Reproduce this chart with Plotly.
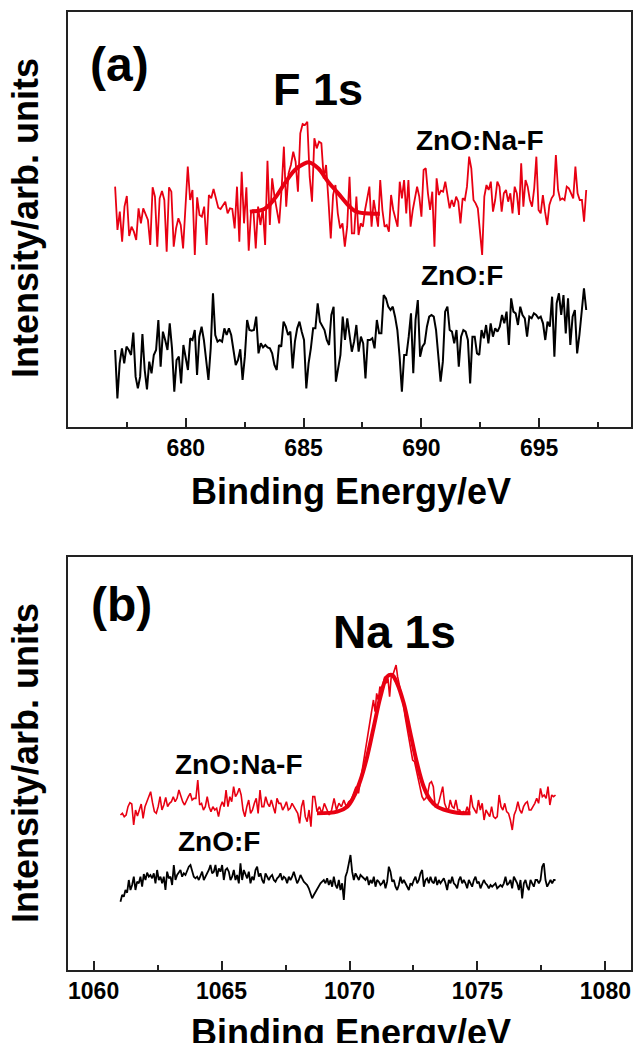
import numpy as np
import plotly.graph_objects as go

# ---------------- data (arb. units) ----------------
# Panel (a): F 1s, ZnO:Na-F (red) split in two sampled segments
f1s_naf_left = [721, 591, 646, 556, 661, 693, 573, 601, 586, 561, 656, 611, 656, 641, 621, 546,
                719, 691, 541, 686, 708, 681, 526, 719, 706, 541, 596, 626, 606, 536, 676, 781,
                681, 711, 516, 689, 636, 631, 661, 546, 696, 686, 714, 681, 658, 654, 666, 676,
                641, 656, 654, 596, 721, 556, 766, 611, 719, 529, 646, 651, 536, 661, 606, 656,
                546, 799, 606, 746, 691, 651, 611, 711, 841, 661, 761, 786, 826, 796, 706, 881,
                909, 906, 916, 751, 676, 866, 836, 856, 851, 746, 786, 681, 566, 696, 726, 641,
                596, 611, 541, 601, 751, 581]
f1s_naf_right = [581, 691, 576, 611, 601, 651, 691, 721, 601, 681, 641, 601, 741, 651, 601, 606,
                 586, 696, 651, 621, 601, 736, 686, 741, 641, 741, 601, 651, 681, 721, 691, 631,
                 771, 776, 701, 651, 706, 541, 746, 696, 709, 706, 736, 701, 656, 681, 661, 691,
                 676, 611, 686, 681, 721, 811, 776, 681, 671, 656, 596, 516, 691, 726, 711, 736,
                 646, 681, 736, 721, 646, 701, 711, 676, 701, 641, 721, 701, 636, 791, 661, 741,
                 721, 681, 661, 716, 811, 651, 641, 696, 646, 606, 666, 686, 696, 816, 711, 681,
                 686, 681, 721, 716, 701, 686, 781, 701, 681, 681, 616, 711]
f1s_naf_left_range = [677.0, 687.05]
f1s_naf_right_range = [687.15, 697.0]

# Panel (a): fitted F 1s component
f1s_fit_x = [682.72, 683.35, 683.78, 684.20, 684.63, 685.05, 685.22, 685.62, 686.04, 686.47,
             686.89, 687.18, 687.60, 688.24]
f1s_fit_y = [646, 655, 686, 731, 771, 791, 794, 776, 736, 701, 666, 648, 641, 640]

# Panel (a): ZnO:F (black)
f1s_f = [231, 86, 191, 236, 191, 241, 231, 216, 283, 151, 116, 151, 279, 171, 113, 196,
         161, 216, 231, 321, 181, 286, 261, 231, 311, 236, 106, 201, 211, 131, 246, 206,
         171, 266, 261, 291, 156, 271, 301, 261, 206, 141, 236, 401, 276, 256, 261, 256,
         296, 276, 296, 276, 231, 186, 201, 233, 141, 211, 321, 291, 289, 291, 331, 221,
         251, 239, 246, 239, 236, 221, 186, 171, 246, 241, 316, 301, 276, 286, 176, 256,
         296, 316, 286, 261, 116, 191, 236, 296, 296, 371, 316, 301, 291, 261, 246, 336,
         361, 136, 181, 216, 331, 261, 326, 271, 226, 256, 306, 226, 271, 251, 146, 261,
         261, 266, 236, 321, 281, 281, 396, 386, 361, 351, 361, 331, 291, 211, 106, 216,
         216, 271, 341, 161, 321, 381, 211, 241, 251, 301, 331, 336, 331, 291, 211, 136,
         196, 346, 361, 291, 286, 251, 291, 181, 271, 291, 286, 261, 131, 271, 271, 221,
         216, 291, 266, 306, 251, 311, 271, 296, 286, 301, 336, 311, 346, 246, 386, 346,
         341, 306, 361, 336, 326, 271, 331, 326, 341, 336, 326, 331, 311, 261, 316, 301,
         391, 211, 371, 401, 336, 396, 281, 386, 246, 331, 351, 221, 276, 351, 416, 351]
f1s_f_range = [677.0, 697.0]

# Panel (b): Na 1s, ZnO:Na-F (red), sampled segments
na1s_naf_base_left = [465, 470, 460, 465, 490, 502, 498, 435, 480, 462, 480, 498, 455, 490, 505, 520,
                      535, 502, 475, 470, 490, 520, 480, 495, 518, 490, 500, 505, 520, 505, 515, 540,
                      520, 505, 495, 510, 520, 530, 510, 515, 515, 570, 495, 500, 480, 490, 520, 490,
                      475, 490, 480, 485, 460, 490, 505, 490, 540, 490, 520, 505, 550, 520, 530, 545,
                      525, 480, 460, 490, 510, 470, 480, 500, 515, 470, 540, 490, 490, 520, 500, 490,
                      510, 490, 470, 515, 500, 500, 480, 490, 505, 480, 485, 500, 490, 480, 470, 440,
                      490, 510, 460, 445, 480, 430, 520, 520]
na1s_naf_base_mid = [475, 490, 470, 500, 485, 465, 480, 515, 480, 500, 490, 510, 490, 505, 510, 530,
                     550, 530]
na1s_naf_rise = [570, 600, 630, 660, 695, 725, 760, 785, 810, 775, 830, 810, 850, 840,
                 865, 880, 860, 875, 820, 880, 885, 900, 915]
na1s_naf_fall = [880, 855, 830, 800, 760, 730, 700,
                 660, 630, 625, 600, 565, 550, 520, 510, 515, 530, 560, 565, 550, 490, 490, 505,
                 530, 550, 500, 485, 480, 510, 490, 485, 510, 480, 480, 470, 475, 470, 490, 470,
                 525, 490, 480, 470, 510, 480, 500, 450, 480, 470, 460, 490, 460, 455, 460, 525,
                 490, 480, 500, 475, 470, 450, 420, 465, 480, 505, 480, 470, 490, 500, 505, 480,
                 480, 490, 500, 515, 500, 545, 520, 525, 515, 550, 495, 525, 520, 525]
na1s_naf_ranges = [[1061.05, 1068.64], [1068.73, 1070.35], [1070.43, 1071.82], [1071.88, 1078.05]]

# Panel (b): fitted Na 1s component
na1s_fit_x = [1068.73, 1069.52, 1069.91, 1070.17, 1070.43, 1070.69, 1070.95, 1071.21, 1071.47,
              1071.66, 1071.86, 1072.12, 1072.38, 1072.64, 1072.90, 1073.16, 1073.42, 1073.81,
              1074.20, 1074.73]
na1s_fit_y = [470, 475, 490, 520, 570, 640, 730, 820, 880, 885, 860, 800, 710, 620, 550, 510,
              490, 478, 472, 470]

# Panel (b): ZnO:F (black)
na1s_f = [205, 225, 220, 240, 232, 270, 240, 255, 280, 240, 265, 260, 280, 250, 288, 270,
          292, 280, 285, 275, 290, 260, 300, 270, 280, 260, 280, 240, 295, 275, 280, 255,
          315, 270, 285, 295, 300, 280, 290, 285, 300, 310, 315, 295, 280, 275, 280, 270,
          280, 295, 270, 280, 295, 300, 315, 290, 295, 315, 280, 305, 295, 315, 270, 300,
          305, 295, 270, 280, 300, 270, 285, 260, 320, 270, 300, 285, 275, 295, 260, 280,
          270, 300, 310, 280, 290, 270, 260, 290, 280, 270, 280, 285, 270, 265, 275, 280,
          290, 270, 280, 275, 260, 280, 270, 280, 295, 280, 260, 270, 285, 275, 265, 260,
          255, 245, 230, 215, 225, 235, 240, 250, 260, 265, 270, 260, 275, 255, 270, 250,
          280, 255, 245, 270, 240, 260, 210, 280, 295, 320, 345, 295, 270, 290, 280, 270,
          285, 280, 275, 270, 280, 255, 270, 260, 280, 250, 270, 265, 255, 260, 270, 245,
          265, 310, 295, 265, 270, 250, 240, 255, 280, 260, 270, 260, 250, 240, 260, 255,
          270, 280, 260, 270, 290, 300, 250, 270, 275, 260, 280, 265, 260, 280, 255, 270,
          260, 270, 275, 260, 240, 270, 260, 280, 260, 255, 245, 270, 280, 260, 270, 260,
          245, 270, 260, 250, 270, 280, 260, 265, 245, 260, 270, 260, 255, 245, 255, 250,
          255, 260, 245, 250, 255, 250, 260, 280, 255, 260, 270, 245, 280, 270, 260, 240,
          270, 215, 260, 270, 250, 240, 270, 260, 250, 270, 270, 260, 270, 310, 320, 270,
          250, 260, 270, 260, 270, 270]
na1s_f_range = [1061.05, 1078.05]

# axes
top_xrange = [675.0, 698.9]
bot_xrange = [1059.0, 1081.0]
top_major = [680, 685, 690, 695]
top_minor = [677.5, 682.5, 687.5, 692.5, 697.5]
bot_major = [1060, 1065, 1070, 1075, 1080]
bot_minor = [1062.5, 1067.5, 1072.5, 1077.5]
top_yrange = [0, 1245]
bot_yrange = [0, 1239]

# ---------------- figure ----------------
W, H = 633, 1043
RED = "rgb(232,0,18)"
FONT = "Liberation Sans, Arial, sans-serif"


def grid(rng, n):
    return np.linspace(rng[0], rng[1], n)


fig = go.Figure()

# top panel
fig.add_trace(go.Scatter(x=grid(f1s_f_range, len(f1s_f)), y=f1s_f,
                         mode="lines", line=dict(color="black", width=2), xaxis="x", yaxis="y"))
fig.add_trace(go.Scatter(x=np.concatenate([grid(f1s_naf_left_range, len(f1s_naf_left)),
                                           grid(f1s_naf_right_range, len(f1s_naf_right))]),
                         y=f1s_naf_left + f1s_naf_right,
                         mode="lines", line=dict(color=RED, width=1.8), xaxis="x", yaxis="y"))
fig.add_trace(go.Scatter(x=f1s_fit_x, y=f1s_fit_y, mode="lines",
                         line=dict(color=RED, width=4, shape="spline"), xaxis="x", yaxis="y"))

# bottom panel
na_segments = [na1s_naf_base_left, na1s_naf_base_mid, na1s_naf_rise, na1s_naf_fall]
na_x = np.concatenate([grid(r, len(s)) for r, s in zip(na1s_naf_ranges, na_segments)])
na_y = [v for s in na_segments for v in s]
fig.add_trace(go.Scatter(x=grid(na1s_f_range, len(na1s_f)), y=na1s_f,
                         mode="lines", line=dict(color="black", width=1.8), xaxis="x2", yaxis="y2"))
fig.add_trace(go.Scatter(x=na_x, y=na_y,
                         mode="lines", line=dict(color=RED, width=1.6), xaxis="x2", yaxis="y2"))
fig.add_trace(go.Scatter(x=na1s_fit_x, y=na1s_fit_y, mode="lines",
                         line=dict(color=RED, width=4, shape="spline"), xaxis="x2", yaxis="y2"))

xdom = [68 / W, 631 / W]
top_ydom = [1 - 427 / H, 1 - 12 / H]
bot_ydom = [1 - 970 / H, 1 - 557 / H]


def xax(rng, major, minor, anchor):
    return dict(domain=xdom, range=rng, anchor=anchor, showline=True, mirror=True,
                linecolor="#222", linewidth=1.5, ticks="inside", ticklen=9, tickwidth=1.5,
                tickcolor="#222", tickvals=major, ticktext=[str(v) for v in major],
                minor=dict(tickvals=minor, ticks="inside", ticklen=5, tickwidth=1.5, tickcolor="#222"),
                showgrid=False, zeroline=False, ticklabelstandoff=0,
                tickfont=dict(family=FONT, size=23, color="black", weight="bold"))


def yax(rng, dom, anchor):
    return dict(domain=dom, range=rng, anchor=anchor, showline=True, mirror=True,
                linecolor="#222", linewidth=1.5, ticks="", showticklabels=False,
                showgrid=False, zeroline=False)


def ann(text, x, y, size, angle=0):
    return dict(text=text, x=x / W, y=1 - y / H, xref="paper", yref="paper",
                xanchor="center", yanchor="middle", showarrow=False, textangle=angle,
                font=dict(family=FONT, size=size, color="black", weight="bold"))


annotations = [
    ann("(a)", 120, 64, 48),
    ann("F 1s", 318, 90, 45),
    ann("ZnO:Na-F", 480, 140, 28),
    ann("ZnO:F", 462, 275, 28),
    ann("Binding Energy/eV", 351, 491, 36),
    ann("Intensity/arb. units", 25, 218, 36, -90),
    ann("(b)", 121, 604, 48),
    ann("Na 1s", 394, 632, 46),
    ann("ZnO:Na-F", 239, 764, 28),
    ann("ZnO:F", 219, 841, 28),
    ann("Binding Energy/eV", 351, 1032, 36),
    ann("Intensity/arb. units", 25, 763, 36, -90),
]

fig.update_layout(
    width=W, height=H, margin=dict(l=0, r=0, t=0, b=0),
    paper_bgcolor="white", plot_bgcolor="white", showlegend=False,
    hovermode=False,
    xaxis=xax(top_xrange, top_major, top_minor, "y"),
    yaxis=yax(top_yrange, top_ydom, "x"),
    xaxis2=xax(bot_xrange, bot_major, bot_minor, "y2"),
    yaxis2=yax(bot_yrange, bot_ydom, "x2"),
    annotations=annotations,
)

fig.write_html("out.html", config={"displayModeBar": False},
               post_script="document.body.style.margin='0';document.body.style.overflow='hidden';")
